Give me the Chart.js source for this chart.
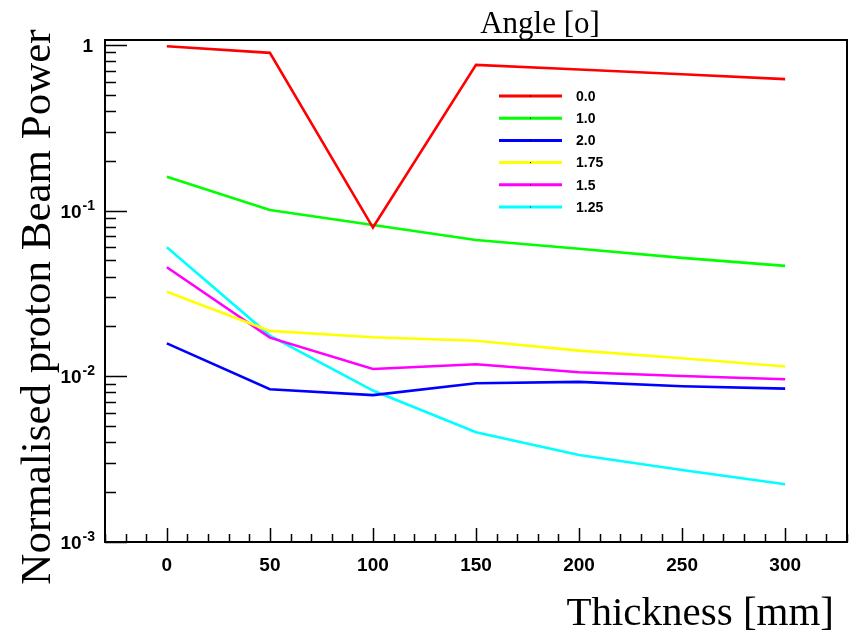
<!DOCTYPE html>
<html>
<head>
<meta charset="utf-8">
<script src="https://cdn.jsdelivr.net/npm/chart.js@4.4.1/dist/chart.umd.min.js"></script>
<style>
  body { margin: 0; background: #fff; }
  #wrap { width: 853px; height: 640px; }
</style>
</head>
<body>
<div id="wrap"><canvas id="chart" width="853" height="640"></canvas></div>
<script>
// thickness [mm] on x, normalised beam power on y, one series per angle
const thickness = [0, 50, 100, 150, 200, 250, 300];
const angles = ['0.0', '1.0', '2.0', '1.75', '1.5', '1.25'];
const power_0_0  = [0.98, 0.895, 0.079, 0.757, 0.71, 0.665, 0.621];
const power_1_0  = [0.160, 0.1007, 0.0819, 0.0665, 0.0588, 0.0518, 0.0464];
const power_2_0  = [0.0158, 0.00835, 0.0077, 0.00907, 0.00925, 0.00871, 0.00842];
const power_1_75 = [0.0324, 0.0188, 0.0172, 0.0164, 0.01428, 0.01285, 0.01146];
const power_1_5  = [0.0455, 0.0171, 0.01107, 0.01183, 0.01057, 0.01004, 0.0096];
const power_1_25 = [0.0601, 0.0176, 0.0082, 0.0046, 0.00335, 0.00272, 0.00223];
const colours = ['#ff0000', '#00ff00', '#0000ff', '#ffff00', '#ff00ff', '#00ffff'];

// y tick labels: mantissa and exponent (exponent drawn as superscript)
const yDecades = [0.001, 0.01, 0.1, 1];
const yDecadeBase = ['10', '10', '10', '1'];
const yDecadeExp = ['-3', '-2', '-1', ''];
const xLabelStep = 50;

const series = [power_0_0, power_1_0, power_2_0, power_1_75, power_1_5, power_1_25];

const tickFont = { family: 'Liberation Sans, Arial, sans-serif', size: 19, weight: 'bold' };

// ROOT-like frame, inward ticks, legend and titles
const rootStyle = {
  id: 'rootStyle',
  afterDatasetsDraw(chart) {
    const { ctx, chartArea: a, scales: { x, y } } = chart;
    ctx.save();
    ctx.strokeStyle = '#000';
    ctx.lineWidth = 2;
    ctx.strokeRect(a.left, a.top, a.right - a.left, a.bottom - a.top);

    ctx.lineWidth = 1.5;
    ctx.beginPath();
    x.ticks.forEach(t => {
      const px = Math.round(x.getPixelForValue(t.value)) + 0.5;
      const len = t.value % xLabelStep === 0 ? 14 : 8;
      ctx.moveTo(px, a.bottom);
      ctx.lineTo(px, a.bottom - len);
    });
    y.ticks.forEach(t => {
      const e = Math.log10(t.value);
      const m = t.value / Math.pow(10, Math.floor(e + 1e-9));
      if (Math.abs(m - Math.round(m)) > 1e-6) return;
      const major = Math.abs(e - Math.round(e)) < 1e-9;
      const py = Math.round(y.getPixelForValue(t.value)) + 0.5;
      ctx.moveTo(a.left, py);
      ctx.lineTo(a.left + (major ? 22 : 11), py);
    });
    ctx.stroke();

    // y labels with superscript exponents
    ctx.fillStyle = '#000';
    ctx.textBaseline = 'alphabetic';
    yDecades.forEach((d, i) => {
      const py = y.getPixelForValue(d);
      let right = a.left - 10;
      ctx.textAlign = 'right';
      if (yDecadeExp[i]) {
        ctx.font = 'bold 14px Liberation Sans, Arial, sans-serif';
        ctx.fillText(yDecadeExp[i], right, py - 1);
        right -= ctx.measureText(yDecadeExp[i]).width + 1;
      } else {
        right -= 2;
      }
      ctx.font = 'bold 19px Liberation Sans, Arial, sans-serif';
      ctx.fillText(yDecadeBase[i], right, py + 7);
    });

    // legend
    ctx.font = 'bold 14px Liberation Sans, Arial, sans-serif';
    ctx.textBaseline = 'middle';
    ctx.textAlign = 'left';
    chart.data.datasets.forEach((ds, i) => {
      const ly = 96 + i * 22.2;
      ctx.strokeStyle = ds.borderColor;
      ctx.lineWidth = 3;
      ctx.beginPath();
      ctx.moveTo(499, ly);
      ctx.lineTo(562, ly);
      ctx.stroke();
      ctx.fillStyle = '#000';
      ctx.fillRect(530, ly - 0.5, 1, 1);
      ctx.fillText(ds.label, 576, ly + 1);
    });

    // titles
    ctx.fillStyle = '#000';
    ctx.textBaseline = 'alphabetic';
    ctx.font = '31px Liberation Serif, Times New Roman, serif';
    ctx.textAlign = 'center';
    ctx.fillText('Angle [o]', 540, 33);

    ctx.font = '41px Liberation Serif, Times New Roman, serif';
    ctx.textAlign = 'right';
    ctx.fillText('Thickness [mm]', 834, 625);

    ctx.font = '43px Liberation Serif, Times New Roman, serif';
    ctx.translate(50, 307);
    ctx.rotate(-Math.PI / 2);
    ctx.textAlign = 'center';
    ctx.fillText('Normalised proton Beam Power', 0, 0);
    ctx.restore();
  }
};

const ctx = document.getElementById('chart').getContext('2d');
new Chart(ctx, {
  type: 'line',
  data: {
    datasets: series.map((vals, i) => ({
      label: angles[i],
      data: thickness.map((t, j) => ({ x: t, y: vals[j] })),
      borderColor: colours[i],
      backgroundColor: colours[i],
      borderWidth: 2.6,
      pointRadius: 0,
      tension: 0,
      fill: false
    }))
  },
  options: {
    responsive: false,
    animation: false,
    layout: { padding: { top: 40, right: 6, left: 0, bottom: 0 }, autoPadding: false },
    plugins: {
      legend: { display: false },
      tooltip: { enabled: false }
    },
    scales: {
      x: {
        type: 'linear',
        min: -30,
        max: 330,
        afterFit: s => { s.height = 98; s.paddingLeft = 0; s.paddingRight = 0; },
        grid: { display: false, drawTicks: false },
        border: { display: false },
        ticks: {
          stepSize: 10,
          autoSkip: false,
          maxRotation: 0,
          padding: 12,
          color: '#000',
          font: tickFont,
          callback: v => (v % xLabelStep === 0 ? String(v) : '')
        }
      },
      y: {
        type: 'logarithmic',
        min: 0.001,
        max: 1.07,
        afterFit: s => { s.width = 105; s.paddingTop = 0; s.paddingBottom = 0; },
        grid: { display: false, drawTicks: false },
        border: { display: false },
        ticks: {
          autoSkip: false,
          display: true,
          color: 'rgba(0,0,0,0)',
          font: tickFont,
          callback: () => ''
        }
      }
    }
  },
  plugins: [rootStyle]
});
</script>
</body>
</html>
